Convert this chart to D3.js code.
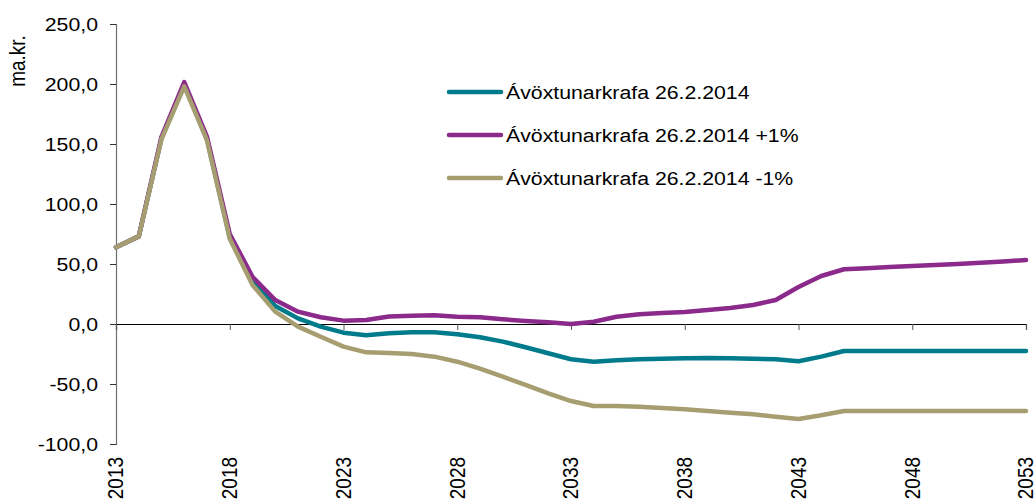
<!DOCTYPE html>
<html>
<head>
<meta charset="utf-8">
<script src="https://cdn.jsdelivr.net/npm/d3@7"></script>
<style>
  html, body { margin: 0; padding: 0; background: #fff; }
  svg { display: block; font-family: "Liberation Sans", Arial, sans-serif; }
</style>
</head>
<body>
<svg id="chart" width="1036" height="504"></svg>
<script>
// Years on the horizontal axis
const years = d3.range(2013, 2054);

// Series values, ma.kr.
const baseCurve = [
  64, 73, 155, 199, 154, 72, 36.7, 15, 4.7, -2.2,
  -7.2, -9.4, -7.8, -6.9, -6.9, -8.6, -11.1, -14.7, -19.4, -24.4,
  -29.4, -31.4, -30.3, -29.4, -28.9, -28.6, -28.3, -28.6, -28.9, -29.4,
  -31, -27.2, -22.5, -22.5, -22.5, -22.5, -22.5, -22.5, -22.5, -22.5, -22.5
];
const plusOne = [
  64, 73, 156, 201.5, 156, 75, 39.4, 20, 10.3, 5.6,
  2.8, 3.3, 6.2, 6.9, 7.2, 6.1, 5.6, 3.9, 2.5, 1.4,
  0, 1.9, 6.1, 8.1, 9.2, 10, 11.7, 13.3, 15.8, 20,
  30.8, 40, 45.6, 46.5, 47.4, 48.3, 49.2, 50.1, 51, 52, 53.3
];
const minusOne = [
  64, 73, 154, 198, 153, 71, 32.5, 10.3, -2.2, -10.6,
  -18.9, -23.6, -24.2, -25, -27.2, -31.4, -37.2, -43.9, -50.8, -57.8,
  -64.2, -68.3, -68.3, -68.9, -70, -71.1, -72.5, -73.9, -75.3, -77.2,
  -79.2, -76, -72.5, -72.5, -72.5, -72.5, -72.5, -72.5, -72.5, -72.5, -72.5
];

const seriesNames = [
  "Ávöxtunarkrafa 26.2.2014",
  "Ávöxtunarkrafa 26.2.2014 +1%",
  "Ávöxtunarkrafa 26.2.2014 -1%"
];
const seriesColors = ["#007b8c", "#8c2a8c", "#a69e70"];
const seriesValues = [baseCurve, plusOne, minusOne];

const yTicks = [-100, -50, 0, 50, 100, 150, 200, 250];
const xTicks = [2013, 2018, 2023, 2028, 2033, 2038, 2043, 2048, 2053];
const yUnit = "ma.kr.";

const svg = d3.select("#chart");
const x = d3.scaleLinear().domain([2013, 2053]).range([116, 1026]);
const y = d3.scaleLinear().domain([-100, 250]).range([444, 24]);

const fmt = v => d3.format(".1f")(v).replace(".", ",").replace("−", "-");
const FS = 19, SX = 1.12;

// Y axis
const yAxis = svg.append("g").attr("transform", "translate(116,0)")
  .call(d3.axisLeft(y).tickValues(yTicks).tickSize(6).tickFormat(""));
yAxis.select(".domain").attr("stroke", "#6e6e6e").attr("stroke-width", 1.2);
yAxis.selectAll(".tick line").attr("stroke", "#333");

svg.append("g").selectAll("text").data(yTicks).join("text")
  .attr("transform", d => `translate(98,${y(d)}) scale(${SX},1)`)
  .attr("text-anchor", "end")
  .attr("dy", "0.35em")
  .attr("font-size", FS)
  .attr("fill", "#000")
  .text(fmt);

// Unit label
svg.append("text")
  .attr("transform", `translate(25,61) scale(${SX},1) rotate(-90)`)
  .attr("text-anchor", "middle")
  .attr("font-size", FS)
  .text(yUnit);

// X axis along zero line
const xAxis = svg.append("g").attr("transform", `translate(0,${y(0)})`)
  .call(d3.axisBottom(x).tickValues(xTicks).tickSize(6).tickFormat(""));
xAxis.select(".domain").attr("stroke", "#000").attr("stroke-width", 1.2);
xAxis.selectAll(".tick line").attr("stroke", "#555");

svg.append("g").selectAll("text").data(xTicks).join("text")
  .attr("transform", d => `translate(${x(d)},457) scale(${SX},1) rotate(-90)`)
  .attr("text-anchor", "end")
  .attr("dy", "0.35em")
  .attr("font-size", FS)
  .text(d => d);

// Lines
const line = d3.line().x((d, i) => x(years[i])).y(d => y(d));
svg.append("g").selectAll("path").data(seriesValues).join("path")
  .attr("d", line)
  .attr("fill", "none")
  .attr("stroke", (d, i) => seriesColors[i])
  .attr("stroke-width", 4.5)
  .attr("stroke-linejoin", "round")
  .attr("stroke-linecap", "round");

// Legend
const legend = svg.append("g").selectAll("g").data(seriesNames).join("g")
  .attr("transform", (d, i) => `translate(0,${92 + i * 43})`);
legend.append("line")
  .attr("x1", 449).attr("x2", 501).attr("y1", 0).attr("y2", 0)
  .attr("stroke", (d, i) => seriesColors[i])
  .attr("stroke-width", 4.5)
  .attr("stroke-linecap", "round");
legend.append("text")
  .attr("transform", `translate(506,0) scale(${SX},1)`)
  .attr("dy", "0.35em")
  .attr("font-size", FS)
  .text(d => d);
</script>
</body>
</html>
